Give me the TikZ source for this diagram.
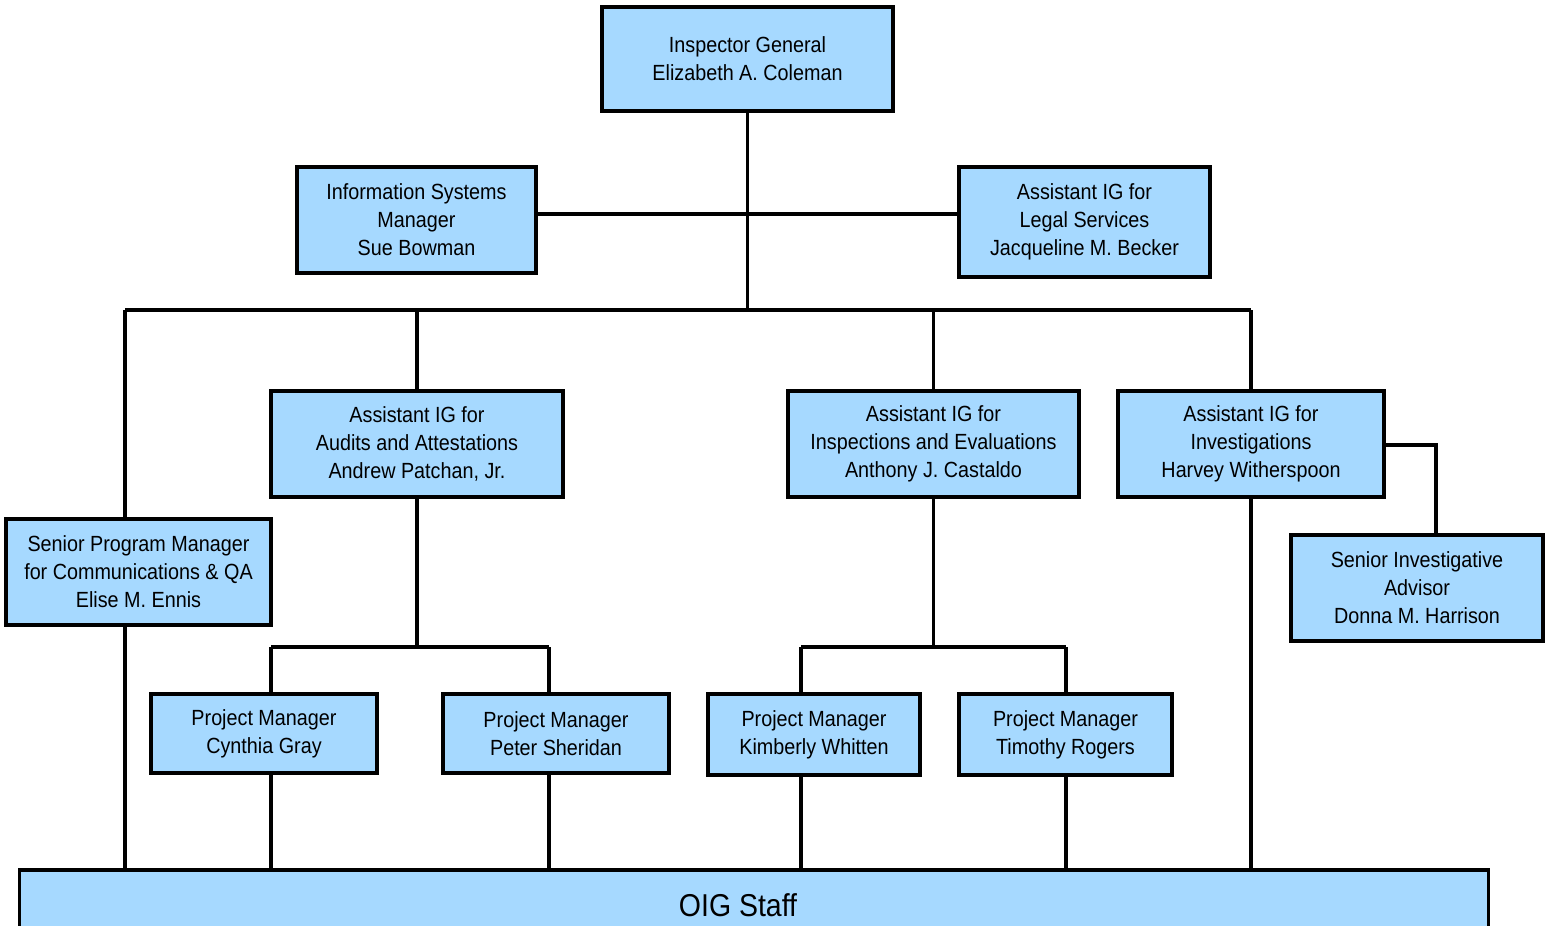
\documentclass[tikz,border=0pt]{standalone}
\usepackage{fontspec}
\setmainfont{Liberation Sans}[FakeStretch=0.9]
\usetikzlibrary{positioning}
\definecolor{boxblue}{HTML}{A6D9FF}
\tikzstyle{person}=[rectangle,draw=black,line width=1.8pt,fill=boxblue,inner sep=0pt,text centered,align=center,font=\fontsize{12.5}{15.9}\selectfont]
\tikzstyle{staff}=[rectangle,draw=black,line width=1.8pt,fill=boxblue,inner sep=0pt,font=\fontsize{18}{22}\selectfont]
\tikzstyle{line}=[line width=2pt]

\begin{document}
\begin{tikzpicture}[x=0.02cm,y=-0.02cm]
\useasboundingbox (0,0) rectangle (1548,926);
\clip (0,0) rectangle (1548,926);

\node (ig) [person,minimum width=5.82cm,minimum height=2.08cm] at (747.5,59) {Inspector General\\Elizabeth A. Coleman};
\node (ism) [person,minimum width=4.78cm,minimum height=2.12cm] at (416.5,220) {Information Systems\\Manager\\Sue Bowman};
\node (legal) [person,minimum width=5.02cm,minimum height=2.2cm] at (1084.5,222) {Assistant IG for\\Legal Services\\Jacqueline M. Becker};
\node (audit) [person,minimum width=5.84cm,minimum height=2.12cm] at (417,444) {Assistant IG for\\Audits and Attestations\\Andrew Patchan, Jr.};
\node (insp) [person,minimum width=5.82cm,minimum height=2.12cm] at (933.5,444) {Assistant IG for\\Inspections and Evaluations\\Anthony J. Castaldo};
\node (invest) [person,minimum width=5.32cm,minimum height=2.12cm] at (1251,444) {Assistant IG for\\Investigations\\Harvey Witherspoon};
\node (spm) [person,minimum width=5.3cm,minimum height=2.12cm] at (138.5,572) {Senior Program Manager\\for Communications \& QA\\Elise M. Ennis};
\node (sia) [person,minimum width=5.04cm,minimum height=2.12cm] at (1417,588) {Senior Investigative\\Advisor\\Donna M. Harrison};
\node (pmgray) [person,minimum width=4.52cm,minimum height=1.58cm] at (264,733.5) {Project Manager\\Cynthia Gray};
\node (pmsheridan) [person,minimum width=4.52cm,minimum height=1.58cm] at (556,733.5) {Project Manager\\Peter Sheridan};
\node (pmwhitten) [person,minimum width=4.24cm,minimum height=1.62cm] at (814,734.5) {Project Manager\\Kimberly Whitten};
\node (pmrogers) [person,minimum width=4.26cm,minimum height=1.62cm] at (1065.5,734.5) {Project Manager\\Timothy Rogers};
\node (staff) [staff,minimum width=29.4cm,minimum height=1.4cm] at (754,905) {\hspace*{-0.64cm}OIG Staff};

% junction points
\coordinate (d1) at (748,214);
\coordinate (busl) at (125,310);
\coordinate (busr) at (1251,310);
\coordinate (a1) at (271,647);
\coordinate (a2) at (549,647);
\coordinate (b1) at (801,647);
\coordinate (b2) at (1066,647);
\coordinate (c1) at (1436,445);

\draw[line] (ig) -- (ig |- busl);
\draw[line] (ism.east |- d1) -- (legal.west |- d1);
\draw[line] (busl) -- (busr);
\draw[line] (busl) -- (busl |- spm.north);
\draw[line] (spm.south -| busl) -- (busl |- staff.north);
\draw[line] (audit) -- (audit |- busl);
\draw[line] (insp) -- (insp |- busl);
\draw[line] (busr) -- (invest);
\draw[line] (invest) -- (invest |- staff.north);
\draw[line] (invest.east |- c1) -- (c1) -- (c1 |- sia.north);

\draw[line] (audit) -- (audit |- a1);
\draw[line] (a1) -- (a2);
\draw[line] (a1) -- (a1 |- pmgray.north);
\draw[line] (a2) -- (a2 |- pmsheridan.north);
\draw[line] (pmgray.south -| a1) -- (a1 |- staff.north);
\draw[line] (pmsheridan.south -| a2) -- (a2 |- staff.north);

\draw[line] (insp) -- (insp |- b1);
\draw[line] (b1) -- (b2);
\draw[line] (b1) -- (b1 |- pmwhitten.north);
\draw[line] (b2) -- (b2 |- pmrogers.north);
\draw[line] (pmwhitten.south -| b1) -- (b1 |- staff.north);
\draw[line] (pmrogers.south -| b2) -- (b2 |- staff.north);
\end{tikzpicture}
\end{document}
